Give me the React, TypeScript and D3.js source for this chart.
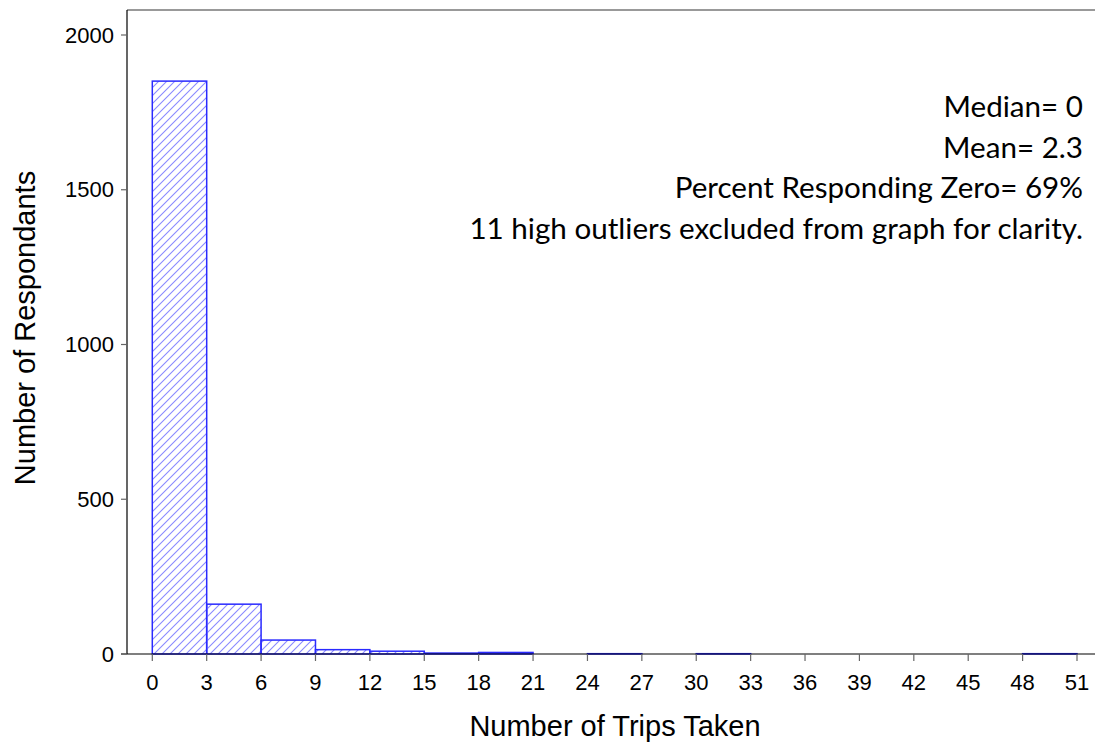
import React from 'react';
import * as d3 from 'd3';

// bin edges (trips taken) and counts per bin
const binStarts = [0, 3, 6, 9, 12, 15, 18, 21, 24, 27, 30, 33, 36, 39, 42, 45, 48];
const counts = [1851, 161, 45, 14, 9, 3, 5, 0, 1, 0, 1, 0, 0, 0, 0, 0, 1];
const binWidth = 3;
const xTicks = [0, 3, 6, 9, 12, 15, 18, 21, 24, 27, 30, 33, 36, 39, 42, 45, 48, 51];
const yTicks = [0, 500, 1000, 1500, 2000];
const notes = [
  'Median= 0',
  'Mean= 2.3',
  'Percent Responding Zero= 69%',
  '11 high outliers excluded from graph for clarity.',
];

const W = 1095;
const H = 744;

const App: React.FC = () => {
  const x = d3.scaleLinear().domain([0, 51]).range([152.3, 1077]);
  const y = d3.scaleLinear().domain([0, 2000]).range([654, 35]);
  const axisFont = '"Liberation Sans", Arial, sans-serif';

  return (
    <svg
      width={W}
      height={H}
      style={{ position: 'absolute', left: 0, top: 0, background: '#fff' }}
    >
      <defs>
        <pattern id="hatch" patternUnits="userSpaceOnUse" width={8} height={8}>
          <path
            d="M-1,1 l2,-2 M0,8 l8,-8 M7,9 l2,-2"
            stroke="#8a8aff"
            strokeWidth={1.1}
          />
        </pattern>
      </defs>

      {/* bars */}
      {binStarts.map((b, i) =>
        counts[i] > 0 ? (
          <rect
            key={b}
            x={x(b)}
            y={y(counts[i])}
            width={x(b + binWidth) - x(b)}
            height={y(0) - y(counts[i])}
            fill="url(#hatch)"
            stroke="#2a2aff"
            strokeWidth={1.5}
          />
        ) : null
      )}

      {/* frame */}
      <line x1={127} x2={W} y1={10} y2={10} stroke="#777" strokeWidth={1.5} />
      <line x1={127} x2={127} y1={10} y2={654} stroke="#000" strokeWidth={1.2} />
      <line x1={121} x2={W} y1={654} y2={654} stroke="#000" strokeWidth={1.2} />

      {/* x axis */}
      {xTicks.map((t) => (
        <g key={t} transform={`translate(${x(t)},654)`}>
          <line y1={0} y2={7} stroke="#666" strokeWidth={1.2} />
          <text
            y={36}
            textAnchor="middle"
            fontFamily={axisFont}
            fontSize={22}
            fill="#000"
          >
            {t}
          </text>
        </g>
      ))}
      <text
        x={615}
        y={736}
        textAnchor="middle"
        fontFamily={axisFont}
        fontSize={29}
        fill="#000"
      >
        Number of Trips Taken
      </text>

      {/* y axis */}
      {yTicks.map((t) => (
        <g key={t} transform={`translate(127,${y(t)})`}>
          <line x1={0} x2={-6} stroke="#666" strokeWidth={1.2} />
          <text
            x={-13}
            dy="0.35em"
            textAnchor="end"
            fontFamily={axisFont}
            fontSize={22}
            fill="#000"
          >
            {t}
          </text>
        </g>
      ))}
      <text
        transform="translate(35,328) rotate(-90)"
        textAnchor="middle"
        fontFamily={axisFont}
        fontSize={29}
        fill="#000"
      >
        Number of Respondants
      </text>

      {/* summary notes */}
      {notes.map((n, i) => (
        <text
          key={n}
          x={1083}
          y={117 + i * 40.5}
          textAnchor="end"
          fontFamily='Lato, "Open Sans", sans-serif'
          fontSize={29.6}
          fill="#000"
        >
          {n}
        </text>
      ))}
    </svg>
  );
};

export default App;
